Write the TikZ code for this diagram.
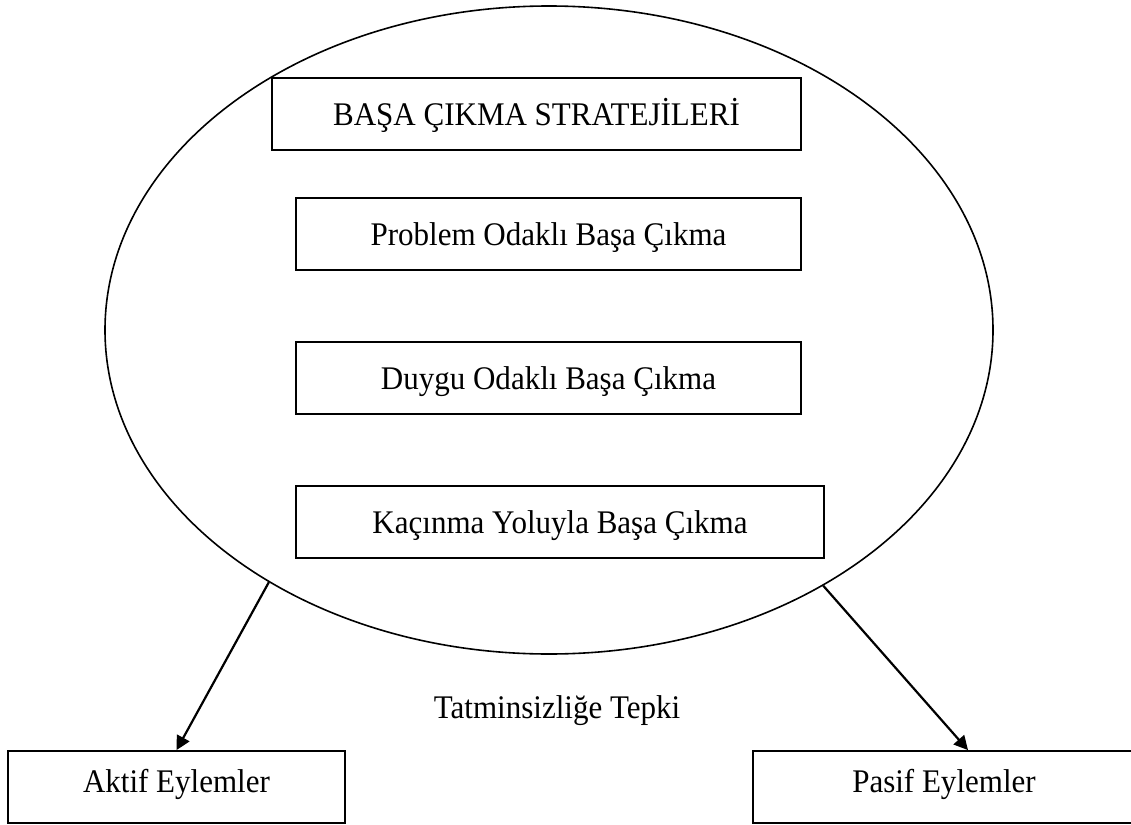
\documentclass[tikz,border=0pt]{standalone}
\usepackage{fontspec}
\setmainfont[FakeStretch=0.94]{Liberation Serif}
\usetikzlibrary{shapes.geometric,arrows.meta}

\tikzset{
  txt/.style={font=\fontsize{33}{39}\selectfont},
  box/.style={draw, line width=1.8pt, rectangle, inner sep=0pt,
              minimum height=72pt, text height=22pt, text depth=0pt, txt},
  lowbox/.style={box, text depth=12pt},
  ring/.style={draw, line width=1.6pt, ellipse, inner sep=0pt},
  link/.style={line width=2.2pt, -{Triangle[length=14pt,width=14pt]}},
  caption/.style={inner sep=0pt, anchor=base, txt}
}

\begin{document}
\begin{tikzpicture}[x=1pt, y=-1pt]
  \useasboundingbox (0,0) rectangle (1131,824);

  % the large ellipse enclosing the strategies
  \node[ring, minimum width=888pt, minimum height=648pt] (E) at (549,330) {};

  % strategy boxes
  \node[box, minimum width=529pt] (title) at (536.5,114) {BAŞA ÇIKMA STRATEJİLERİ};
  \node[box, minimum width=505pt] (prob)  at (548.5,234) {Problem Odaklı Başa Çıkma};
  \node[box, minimum width=505pt] (duygu) at (548.5,378) {Duygu Odaklı Başa Çıkma};
  \node[box, minimum width=528pt] (kac)   at (560,522)   {Kaçınma Yoluyla Başa Çıkma};

  % reaction label
  \node[caption] (tepki) at (557,718) {Tatminsizliğe Tepki};

  % outcome boxes
  \node[lowbox, minimum width=337pt] (aktif) at (176.5,787) {Aktif Eylemler};
  \node[lowbox, minimum width=382pt] (pasif) at (944,787)   {Pasif Eylemler};

  % connectors from the ellipse to the outcomes
  \draw[link] (E.222.5) -- (aktif.north);
  \draw[link] (E.317.6) -- ([xshift=24pt]pasif.north);
\end{tikzpicture}
\end{document}
